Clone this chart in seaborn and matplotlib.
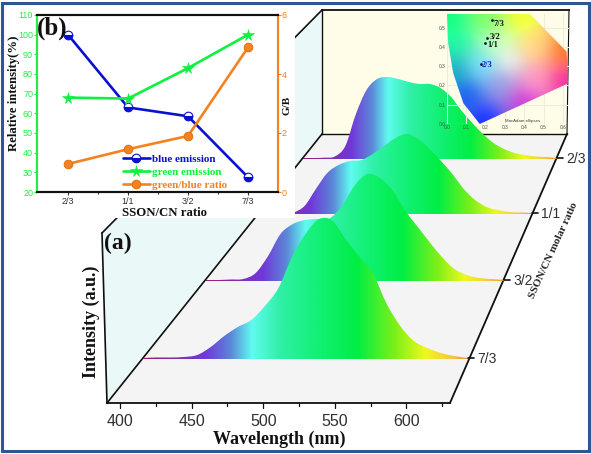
import numpy as np
import matplotlib
matplotlib.use("Agg")
import matplotlib.pyplot as plt
from matplotlib.colors import LinearSegmentedColormap, to_rgb
from matplotlib.patches import Polygon, Rectangle, PathPatch
from matplotlib.path import Path
from matplotlib.lines import Line2D
import seaborn as sns

# ---------- data ----------
ratio_labels = ["2/3", "1/1", "3/2", "7/3"]
blue_emission = [100, 63, 58.5, 27.5]
green_emission = [68, 67.5, 83, 100]
green_blue_ratio = [0.95, 1.45, 1.9, 4.9]

wavelength = [390, 400, 410, 420, 430, 440, 450, 460, 470, 480, 490, 500, 510,
              520, 530, 540, 550, 560, 570, 580, 590, 600, 610, 620, 630]
intensity_2_3 = [0, 0, .3, 1.5, 12, 44, 68, 79, 81, 79, 76, 74, 74,
                 70, 61, 47, 35, 24, 15, 9, 5, 3, 1.5, 1, 0]
intensity_1_1 = [0, 0, 0, .5, 7, 24, 40, 48, 52, 53, 59, 67, 75,
                 79, 74, 64, 52, 39, 24, 13, 6, 3, 1, .5, 0]
intensity_3_2 = [0, 0, .5, 1, 7, 24, 46, 56, 60, 61, 62, 75, 95,
                 106, 102, 90, 70, 54, 38, 23, 11, 5, 2, 1, 0]
intensity_7_3 = [0, .5, .5, 1, 3, 11, 22, 31, 38, 52, 70, 101, 124,
                 139, 137, 118, 101, 84, 54, 32, 17, 10, 5, 2, 0]
wl_ticks = [400, 450, 500, 550, 600]

cie_x = [0.231, 0.206, 0.197, 0.174]
cie_y = [0.539, 0.447, 0.421, 0.311]
cie_labels = ["7/3", "3/2", "1/1", "2/3"]
locus_x = [0.0, 0.006, 0.032, 0.085, 0.17, 0.627, 0.62, 0.43]
locus_y = [0.57, 0.42, 0.264, 0.107, 0.0, 0.21, 0.375, 0.57]
anchor_x = [.02, .2, .38, .62, .62, .4, .2, .1, .04, .18, .32, .45, .25, .45, .28, .05]
anchor_y = [.55, .55, .55, .38, .22, .12, .02, .15, .27, .3, .33, .4, .43, .22, .2, .42]
anchor_c = ["#10f070", "#70ff50", "#e8ff20", "#ff6a10", "#d0209a", "#c020c0", "#0a20e0",
            "#1040d0", "#1090a0", "#80e0ff", "#ffffff", "#ffd080", "#d0ffc0", "#ffa0c0",
            "#9090d0", "#18d890"]

# ---------- setup ----------
sns.set_theme(style="white")
W, H = 591, 454
serif = "Liberation Serif"
sans = "Liberation Sans"
plt.rcParams["font.family"] = [sans, "DejaVu Sans"]
fig = plt.figure(figsize=(W / 100, H / 100), dpi=100, facecolor="white")

scene = fig.add_axes([0, 0, 1, 1])
scene.set_xlim(0, W)
scene.set_ylim(H, 0)
scene.axis("off")

# 3-D box
FL, FR, BL, BR = (107, 403), (450, 403), (322, 134), (567, 134)
TL, TR, LT = (322, 10), (569, 10), (102, 233)
scene.add_patch(Polygon([FL, FR, BR, BL], fc="#f4f4f5", ec="none", zorder=1))
scene.add_patch(Polygon([BL, TL, TR, BR], fc="#fffde8", ec="none", zorder=1))
scene.add_patch(Polygon([FL, LT, TL, BL], fc="#eaf8f8", ec="none", zorder=1))
for a, b, lw in [(FL, FR, 1.3), (FR, BR, 1.3), (BR, TR, 0.8), (BL, TL, 1.0), (TL, TR, 1.3),
                 (BL, BR, 1.0), (BL, FL, 1.2), (TL, LT, 1.2), (LT, FL, 1.2)]:
    scene.plot([a[0], b[0]], [a[1], b[1]], color="#101010", lw=lw, zorder=2,
               solid_capstyle="projecting")
# wavelength axis
x_front = lambda v: FL[0] + (np.asarray(v, float) - 391) * 1.433
for v in wl_ticks:
    scene.plot([x_front(v)] * 2, [403, 408], color="#101010", lw=0.9, zorder=2)
    scene.text(x_front(v), 422, str(v), ha="center", va="center", fontsize=11.5, color="#303030")
for v in [425, 475, 525, 575, 625]:
    scene.plot([x_front(v)] * 2, [403, 406], color="#101010", lw=0.9, zorder=2)

# ridges, back to front
cmap = LinearSegmentedColormap.from_list("spec", [
    (0.0, "#a01870"), (0.10, "#8030b0"), (0.19, "#7038d8"), (0.27, "#5c88d8"),
    (0.335, "#60fbf0"), (0.42, "#30f0a8"), (0.55, "#10f070"), (0.66, "#00ee44"),
    (0.78, "#80f018"), (0.87, "#eef820"), (0.95, "#f8c840"), (1.0, "#f09838")])
gradient = np.linspace(0, 1, 512)[None, :]
ridges = [("2/3", intensity_2_3, 303, 557, 158),
          ("1/1", intensity_1_1, 259, 532, 213),
          ("3/2", intensity_3_2, 206, 504, 280),
          ("7/3", intensity_7_3, 143, 468, 358)]
wl = np.asarray(wavelength, float)


def ridge_path(px, py, xl, xr, base):
    """Smooth Bezier outline running through the read points."""
    pts = np.c_[px, py]
    verts, codes = [pts[0]], [Path.MOVETO]
    for k in range(len(pts) - 1):
        p0 = pts[max(k - 1, 0)]
        p1, p2 = pts[k], pts[k + 1]
        p3 = pts[min(k + 2, len(pts) - 1)]
        verts += [p1 + (p2 - p0) / 6, p2 - (p3 - p1) / 6, p2]
        codes += [Path.CURVE4] * 3
    verts += [(xr, base + 1), (xl, base + 1), pts[0]]
    codes += [Path.LINETO, Path.LINETO, Path.CLOSEPOLY]
    return Path(np.array(verts, float), codes)


for i, (name, vals, xl, xr, base) in enumerate(ridges):
    px = xl + (wl - 390) / 240 * (xr - xl)
    py = base - np.asarray(vals, float)
    im = scene.imshow(gradient, cmap=cmap, aspect="auto", zorder=3 + i,
                      extent=[xl, xr, base + 1, base - 150], interpolation="bilinear")
    clip = PathPatch(ridge_path(px, py, xl, xr, base), transform=scene.transData,
                     fc="none", ec="none")
    scene.add_patch(clip)
    im.set_clip_path(clip)
    scene.plot([xr, xr + 6], [base, base], color="#101010", lw=1.2, zorder=8)
    scene.text(xr + 9, base + 1, name, ha="left", va="center", fontsize=10, color="#303030", zorder=8)
scene.set_xlim(0, W)
scene.set_ylim(H, 0)

scene.text(91, 322, "Intensity (a.u.)", rotation=90, ha="center", va="center",
           family=serif, weight="bold", fontsize=13, color="#111111")
scene.text(279, 439, "Wavelength (nm)", ha="center", va="center",
           family=serif, weight="bold", fontsize=13, color="#111111")
scene.text(118, 243, "(a)", ha="center", va="center", family=serif, weight="bold",
           fontsize=17, color="#111111")
scene.text(553, 250, "SSON/CN molar ratio", rotation=65.4, ha="center", va="center",
           rotation_mode="anchor", family=serif, weight="bold", fontsize=8, color="#222222")

# white area behind panel (b)
scene.add_patch(Rectangle((4, 4), 291, 214, fc="white", ec="none", zorder=9))
# image border
scene.add_patch(Rectangle((2, 2.5), 586.5, 448.5, fc="none", ec="#2f5597", lw=2.2, zorder=20))

# ---------- panel (b) ----------
ax = fig.add_axes([37 / W, 1 - 192 / H, 241 / W, 177 / H], facecolor="none", zorder=5)
sns.lineplot(x=ratio_labels, y=blue_emission, sort=False, ax=ax, color="#0a10d0", lw=1.9,
             marker="o", ms=6.2, fillstyle="bottom", markerfacecoloralt="white",
             markeredgecolor="#0a10d0", markeredgewidth=0.8, errorbar=None)
sns.lineplot(x=ratio_labels, y=green_emission, sort=False, ax=ax, color="#10f040", lw=1.9,
             marker="*", ms=8.5, markeredgecolor="#10f040", markeredgewidth=.4, errorbar=None)
ax.set_xlim(-0.517, 3.5)
ax.set_ylim(20, 110)
ax.set_yticks(range(20, 111, 10))
ax.set_xticks([0.5, 1.5, 2.5], minor=True)
ax.tick_params(axis="x", which="major", length=2.5, width=0.8, labelsize=6.5, pad=1,
               colors="#303030", bottom=True)
ax.tick_params(axis="x", which="minor", length=1.5, width=0.8, color="#303030", bottom=True)
ax.tick_params(axis="y", length=2, width=0.8, labelsize=6.5, colors="#20ee40", pad=0.8, left=True)
ax.set_xlabel("SSON/CN ratio", family=serif, weight="bold", fontsize=9.2, color="#111111")
ax.xaxis.set_label_coords((165 - 37) / 241, -(213 - 192) / 177, transform=ax.transAxes)
ax.xaxis.label.set_va("center")
ax.set_ylabel("Relative intensity(%)", family=serif, weight="bold", fontsize=9.2, color="#111111")
ax.yaxis.set_label_coords((14 - 37) / 241, (192 - 93) / 177, transform=ax.transAxes)
ax.yaxis.label.set_va("center")

ax2 = ax.twinx()
ax2.set_facecolor("none")
sns.lineplot(x=ratio_labels, y=green_blue_ratio, sort=False, ax=ax2, color="#f58220", lw=1.9,
             marker="o", ms=6.2, markeredgecolor="#e07010", markeredgewidth=.7, errorbar=None)
ax2.set_ylim(0, 6)
ax2.set_yticks([0, 2, 4, 6])
ax2.tick_params(axis="y", length=2, width=0.8, labelsize=6.5, colors="#f58220", pad=0.8, right=True)
ax2.set_ylabel("G/B", family=serif, weight="bold", fontsize=8, color="#111111")
ax2.yaxis.set_label_coords((287 - 37) / 241, (192 - 105) / 177, transform=ax2.transAxes)
ax2.yaxis.label.set_va("center")
ax2.grid(False)
ax.grid(False)
for a_ in (ax, ax2):
    a_.spines["left"].set(color="#20ee40", lw=1.5)
    a_.spines["right"].set(color="#f58220", lw=1.5)
    a_.spines["top"].set(color="#111111", lw=1.5)
    a_.spines["bottom"].set(color="#111111", lw=1.5)
fig.text(52 / W, 1 - 28 / H, "(b)", ha="center", va="center", family=serif, weight="bold",
         fontsize=18, color="#111111", zorder=10)

handles = [
    Line2D([], [], color="#0a10d0", lw=1.9, marker="o", ms=6.2, fillstyle="bottom",
           markerfacecoloralt="white", mec="#0a10d0", mew=0.8),
    Line2D([], [], color="#10f040", lw=1.9, marker="*", ms=8.5, mec="#10f040", mew=.4),
    Line2D([], [], color="#f58220", lw=1.9, marker="o", ms=6.2, mec="#e07010", mew=.7),
]
leg = ax2.legend(handles, ["blue emission", "green emission", "green/blue ratio"],
                 loc="lower left", bbox_to_anchor=(0.357, 0.012), frameon=False,
                 handlelength=2.4, handletextpad=0.25, labelspacing=0.28, borderpad=0,
                 borderaxespad=0, prop={"family": serif, "weight": "bold", "size": 8},
                 labelcolor=["#0a10d0", "#10f040", "#f58220"])

# ---------- CIE inset ----------
ins = fig.add_axes([447 / W, 1 - 124 / H, 122 / W, 110 / H], facecolor="none", zorder=6)
xs, ys = np.meshgrid(np.linspace(0, 0.64, 240), np.linspace(0, 0.58, 220))
weights = np.stack([1 / (np.hypot(xs - ax_, ys - ay_) ** 2.4 + 2e-3)
                    for ax_, ay_ in zip(anchor_x, anchor_y)], axis=-1)
weights /= weights.sum(axis=-1, keepdims=True)
rgb = weights @ np.array([to_rgb(c) for c in anchor_c])
rgb = np.clip((rgb - rgb.mean(axis=2, keepdims=True)) * 1.35 + rgb.mean(axis=2, keepdims=True) * 1.08, 0, 1)
cim = ins.imshow(rgb, origin="lower", extent=[0, 0.64, 0, 0.58], aspect="auto",
                 interpolation="bilinear", zorder=1)
gamut = Polygon(np.c_[locus_x, locus_y], transform=ins.transData, fc="none", ec="none")
ins.add_patch(gamut)
cim.set_clip_path(gamut)
ins.set_xlim(0, 122 / 193)
ins.set_ylim(0, 110 / 193)
ins.set_xticks(np.arange(0, 0.61, 0.1))
ins.set_yticks(np.arange(0, 0.51, 0.1))
ins.set_xticklabels([f"{v:.1f}" for v in np.arange(0, 0.61, 0.1)])
ins.set_yticklabels([f"{v:.1f}" for v in np.arange(0, 0.51, 0.1)])
ins.tick_params(length=0, labelsize=3.5, colors="#505050", pad=1)
ins.grid(True, color="#ecece0", lw=0.8, zorder=0.5)
ins.set_axisbelow(True)
for s in ins.spines.values():
    s.set_visible(False)
sns.scatterplot(x=cie_x, y=cie_y, ax=ins, color="#101040", s=4, linewidth=0, zorder=3)
offsets = [(.012, -.02), (.016, .004), (.012, -.012), (.008, -.004)]
for lx, ly, name, (dx, dy) in zip(cie_x, cie_y, cie_labels, offsets):
    ins.text(lx + dx, ly + dy, name, fontsize=6, family=serif, weight="bold", va="center",
             color="#1a20c0" if name == "2/3" else "#111111", zorder=4)
ins.text(0.3, 0.018, "MacAdam ellipses", fontsize=3.2, color="#404040", va="center", zorder=4)

fig.savefig("out.png", dpi=100, facecolor="white")
